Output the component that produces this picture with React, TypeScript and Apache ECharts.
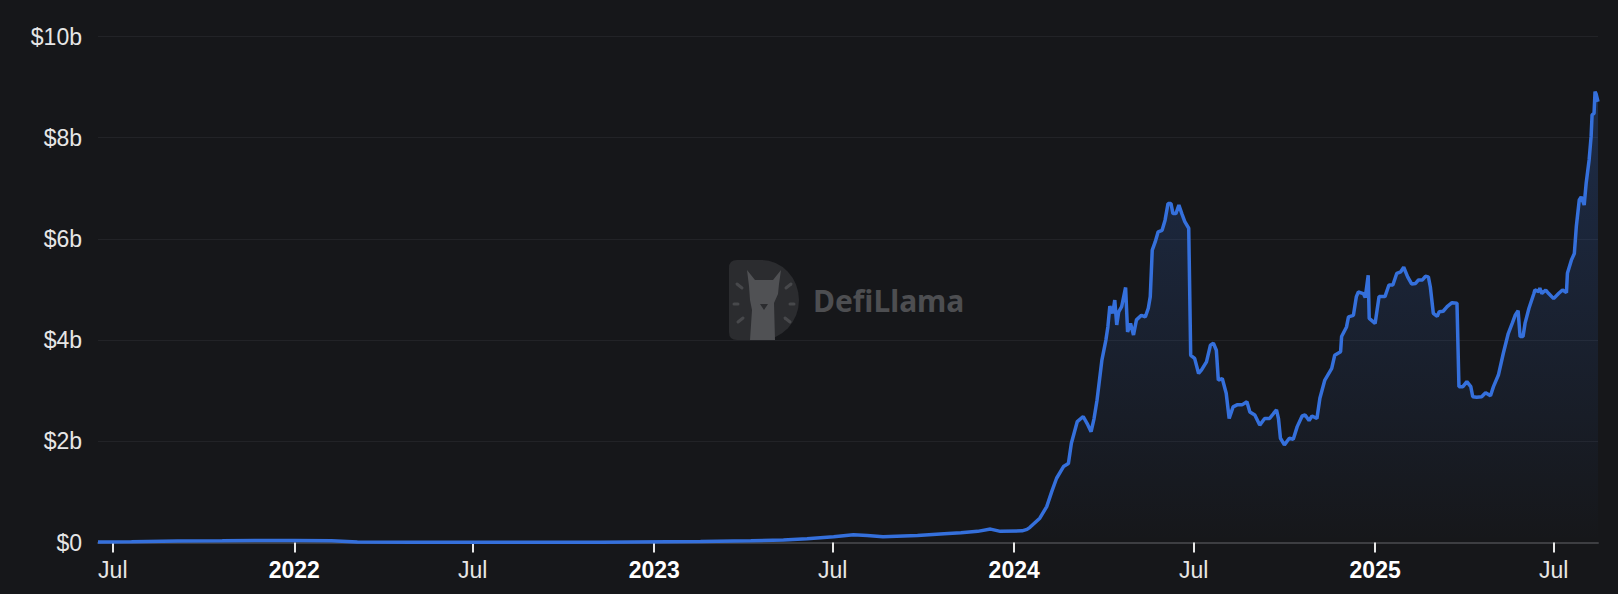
import React, { useEffect, useRef } from "react";
import * as echarts from "echarts";

const dates: string[] = [
  "2021-06-16", "2021-07-20", "2021-09-05", "2021-10-20", "2021-11-22", "2022-01-01", "2022-02-08", "2022-03-06",
  "2022-05-01", "2022-08-01", "2022-11-08", "2022-12-12", "2023-02-17", "2023-04-09", "2023-05-12", "2023-06-05",
  "2023-07-02", "2023-07-22", "2023-08-05", "2023-08-21", "2023-09-25", "2023-10-22", "2023-11-08", "2023-11-25",
  "2023-12-08", "2023-12-18", "2024-01-09", "2024-01-14", "2024-01-17", "2024-01-27", "2024-02-03", "2024-02-08",
  "2024-02-13", "2024-02-20", "2024-02-25", "2024-02-28", "2024-03-05", "2024-03-11", "2024-03-15", "2024-03-19",
  "2024-03-22", "2024-03-25", "2024-03-30", "2024-04-03", "2024-04-05", "2024-04-07", "2024-04-10", "2024-04-12",
  "2024-04-14", "2024-04-16", "2024-04-19", "2024-04-23", "2024-04-25", "2024-04-28", "2024-05-01", "2024-05-04",
  "2024-05-09", "2024-05-13", "2024-05-16", "2024-05-18", "2024-05-20", "2024-05-23", "2024-05-26", "2024-05-30",
  "2024-06-02", "2024-06-05", "2024-06-08", "2024-06-10", "2024-06-13", "2024-06-16", "2024-06-19", "2024-06-22",
  "2024-06-26", "2024-06-28", "2024-07-02", "2024-07-06", "2024-07-09", "2024-07-14", "2024-07-18", "2024-07-21",
  "2024-07-24", "2024-07-26", "2024-07-30", "2024-08-03", "2024-08-06", "2024-08-10", "2024-08-14", "2024-08-19",
  "2024-08-24", "2024-08-27", "2024-09-01", "2024-09-06", "2024-09-11", "2024-09-16", "2024-09-20", "2024-09-23",
  "2024-09-25", "2024-09-27", "2024-10-01", "2024-10-06", "2024-10-10", "2024-10-14", "2024-10-19", "2024-10-22",
  "2024-10-26", "2024-10-29", "2024-11-03", "2024-11-06", "2024-11-11", "2024-11-18", "2024-11-21", "2024-11-27",
  "2024-11-28", "2024-12-03", "2024-12-05", "2024-12-10", "2024-12-13", "2024-12-15", "2024-12-20", "2024-12-22",
  "2024-12-25", "2024-12-26", "2025-01-01", "2025-01-05", "2025-01-11", "2025-01-15", "2025-01-19", "2025-01-23",
  "2025-01-27", "2025-01-30", "2025-02-03", "2025-02-07", "2025-02-11", "2025-02-14", "2025-02-18", "2025-02-21",
  "2025-02-24", "2025-02-26", "2025-03-01", "2025-03-05", "2025-03-07", "2025-03-11", "2025-03-15", "2025-03-20",
  "2025-03-25", "2025-03-27", "2025-03-31", "2025-04-04", "2025-04-08", "2025-04-10", "2025-04-14", "2025-04-19",
  "2025-04-23", "2025-04-28", "2025-05-01", "2025-05-06", "2025-05-11", "2025-05-16", "2025-05-20", "2025-05-23",
  "2025-05-26", "2025-05-28", "2025-05-31", "2025-06-02", "2025-06-06", "2025-06-11", "2025-06-12", "2025-06-16",
  "2025-06-17", "2025-06-19", "2025-06-23", "2025-06-26", "2025-07-01", "2025-07-06", "2025-07-10", "2025-07-14",
  "2025-07-15", "2025-07-19", "2025-07-22", "2025-07-24", "2025-07-27", "2025-07-29", "2025-08-01", "2025-08-03",
  "2025-08-06", "2025-08-08", "2025-08-09", "2025-08-11", "2025-08-12", "2025-08-13", "2025-08-15",
];

// TVL in billions of USD
const tvl: number[] = [
  0.01, 0.015, 0.03, 0.035, 0.04, 0.04, 0.035, 0.012,
  0.006, 0.005, 0.005, 0.01, 0.02, 0.035, 0.05, 0.075,
  0.115, 0.155, 0.14, 0.115, 0.14, 0.175, 0.195, 0.22,
  0.265, 0.22, 0.23, 0.26, 0.3, 0.48, 0.71, 1.0,
  1.27, 1.5, 1.56, 1.96, 2.39, 2.49, 2.35, 2.19,
  2.45, 2.81, 3.61, 4.0, 4.26, 4.67, 4.53, 4.79,
  4.3, 4.56, 4.66, 5.04, 4.16, 4.33, 4.1, 4.4,
  4.49, 4.46, 4.63, 4.86, 5.78, 5.94, 6.14, 6.17,
  6.37, 6.7, 6.7, 6.5, 6.5, 6.67, 6.5, 6.34,
  6.21, 3.7, 3.64, 3.34, 3.41, 3.57, 3.9, 3.94,
  3.8, 3.21, 3.24, 2.95, 2.45, 2.68, 2.72, 2.72,
  2.78, 2.58, 2.52, 2.32, 2.45, 2.45, 2.55, 2.62,
  2.45, 2.06, 1.93, 2.06, 2.04, 2.29, 2.5, 2.52,
  2.41, 2.5, 2.45, 2.85, 3.21, 3.44, 3.7, 3.77,
  4.07, 4.26, 4.46, 4.49, 4.86, 4.95, 4.92, 4.84,
  5.28, 4.43, 4.33, 4.86, 4.86, 5.09, 5.09, 5.32,
  5.35, 5.44, 5.25, 5.11, 5.12, 5.19, 5.19, 5.26,
  5.25, 5.05, 4.53, 4.47, 4.56, 4.57, 4.66, 4.74,
  4.73, 3.08, 3.08, 3.18, 3.08, 2.88, 2.87, 2.88,
  2.96, 2.9, 3.08, 3.31, 3.74, 4.13, 4.33, 4.49,
  4.58, 4.07, 4.07, 4.33, 4.63, 4.92, 4.99, 4.96,
  5.03, 4.92, 4.99, 4.92, 4.82, 4.92, 4.99, 4.94,
  5.32, 5.58, 5.71, 6.24, 6.77, 6.83, 6.67, 7.1,
  7.56, 8.02, 8.45, 8.48, 8.91, 8.87, 8.71,
];

const xTickDates: string[] = [
  "2021-07-01", "2022-01-01", "2022-07-01", "2023-01-01", "2023-07-01",
  "2024-01-01", "2024-07-01", "2025-01-01", "2025-07-01",
];
const xMin = "2021-06-16";
const xMax = "2025-08-15";
const yTicks: number[] = [0, 2, 4, 6, 8, 10];

const BG = "#16171a";
const LINE = "#3570dc";
const FONT = "'Liberation Sans', Arial, Helvetica, sans-serif";

const logoD =
  "M8 0 L32 0 A38 40 0 0 1 32 80 L8 80 Q0 80 0 72 L0 8 Q0 0 8 0 Z";
const llama =
  "M18 10 L26 20 L44 20 L52 10 L50 24 L49 34 L45 43 L46 80 L21 80 L23 50 L21 40 L20 26 Z";

export default function App() {
  const ref = useRef<HTMLDivElement>(null);

  useEffect(() => {
    document.body.style.margin = "0";
    document.body.style.background = BG;
    if (!ref.current) return;
    try {
      echarts.graphic.registerShape("dlogo", echarts.graphic.extendPath(logoD, {}));
      echarts.graphic.registerShape("llama", echarts.graphic.extendPath(llama, {}));
    } catch (e) {}
    const chart = echarts.init(ref.current, null, { renderer: "svg" });
    const toTs = (s: string) => new Date(s + "T00:00:00Z").getTime();
    const seriesData = dates.map((d, i) => [toTs(d), tvl[i]]);
    const tickVals = xTickDates.map(toTs);

    chart.setOption({
      animation: false,
      backgroundColor: BG,
      grid: { left: 98, right: 20, top: 36.5, bottom: 51.5, containLabel: false },
      xAxis: {
        type: "value",
        min: toTs(xMin),
        max: toTs(xMax),
        scale: true,
        axisLine: { show: true, onZero: false, lineStyle: { color: "#3d3e42", width: 2 } },
        axisTick: {
          show: true,
          customValues: tickVals,
          length: 10,
          lineStyle: { color: "#e8e8e8", width: 2 },
        },
        splitLine: { show: false },
        axisLabel: {
          customValues: tickVals,
          showMinLabel: true,
          showMaxLabel: true,
          hideOverlap: false,
          margin: 16,
          color: "#e6e6e6",
          fontSize: 23,
          fontFamily: FONT,
          formatter: (v: number) => {
            const d = new Date(v);
            return d.getUTCMonth() === 0 ? `{y|${d.getUTCFullYear()}}` : "Jul";
          },
          rich: {
            y: { fontWeight: "bold", color: "#ffffff", fontSize: 23, fontFamily: FONT },
          },
        },
      },
      yAxis: {
        type: "value",
        min: 0,
        max: 10,
        interval: 2,
        axisLine: { show: false },
        axisTick: { show: false },
        splitLine: { show: true, lineStyle: { color: "#222327", width: 1 } },
        axisLabel: {
          margin: 16,
          color: "#e6e6e6",
          fontSize: 23,
          fontFamily: FONT,
          formatter: (v: number) => (yTicks.includes(v) ? (v === 0 ? "$0" : `$${v}b`) : ""),
        },
      },
      graphic: [
        {
          type: "group",
          left: 729,
          top: 260,
          silent: true,
          z: 0,
          children: [
            { type: "dlogo", x: 0, y: 0, style: { fill: "#2b2c2f" } },
            { type: "llama", x: 0, y: 0, style: { fill: "#505154" } },
            { type: "polygon", shape: { points: [[31, 44], [39, 44], [35, 50]] }, style: { fill: "#2b2c2f" } },
            { type: "line", shape: { x1: 8, y1: 24, x2: 13, y2: 28 }, style: { stroke: "#47484b", lineWidth: 3, lineCap: "round" } },
            { type: "line", shape: { x1: 5, y1: 44, x2: 9, y2: 44 }, style: { stroke: "#47484b", lineWidth: 3, lineCap: "round" } },
            { type: "line", shape: { x1: 9, y1: 62, x2: 14, y2: 58 }, style: { stroke: "#47484b", lineWidth: 3, lineCap: "round" } },
            { type: "line", shape: { x1: 62, y1: 24, x2: 57, y2: 28 }, style: { stroke: "#47484b", lineWidth: 3, lineCap: "round" } },
            { type: "line", shape: { x1: 65, y1: 44, x2: 61, y2: 44 }, style: { stroke: "#47484b", lineWidth: 3, lineCap: "round" } },
            { type: "line", shape: { x1: 61, y1: 62, x2: 56, y2: 58 }, style: { stroke: "#47484b", lineWidth: 3, lineCap: "round" } },
          ],
        },
        {
          type: "text",
          left: 813,
          top: 285,
          silent: true,
          z: 0,
          style: {
            text: "DefiLlama",
            fill: "#4d4e51",
            font: "bold 30px 'Noto Sans', 'Open Sans', sans-serif",
          },
        },
      ],
      series: [
        {
          type: "line",
          data: seriesData,
          showSymbol: false,
          symbol: "none",
          smooth: false,
          z: 5,
          lineStyle: { color: LINE, width: 3.5 },
          itemStyle: { color: LINE },
          areaStyle: {
            color: new echarts.graphic.LinearGradient(0, 0, 0, 1, [
              { offset: 0, color: "rgba(53,112,220,0.34)" },
              { offset: 1, color: "rgba(53,112,220,0)" },
            ]),
          },
        },
      ],
    });
    return () => chart.dispose();
  }, []);

  return <div ref={ref} style={{ width: 1618, height: 594 }} />;
}
